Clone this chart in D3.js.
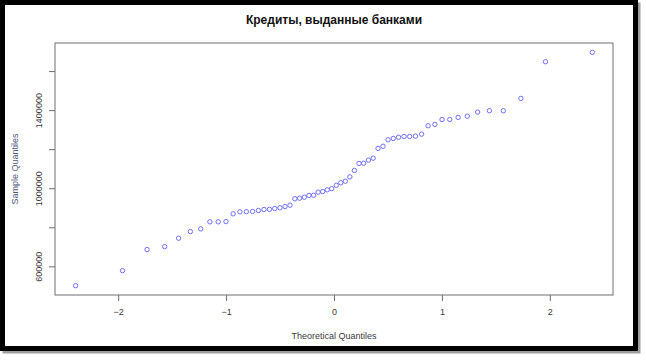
<!DOCTYPE html>
<html>
<head>
<meta charset="utf-8">
<script src="https://cdn.jsdelivr.net/npm/d3@7"></script>
<style>
  html, body { margin: 0; padding: 0; background: #fff; }
  svg { display: block; font-family: "Liberation Sans", Arial, sans-serif; }
</style>
</head>
<body>
<div id="chart"></div>
<script>
// theoretical normal quantiles (n = 60) and the sorted sample
const theoretical = [
  -2.394, -1.960, -1.732, -1.569, -1.440, -1.331, -1.235, -1.150, -1.073, -1.001,
  -0.935, -0.872, -0.812, -0.755, -0.701, -0.649, -0.598, -0.549, -0.501, -0.454,
  -0.408, -0.363, -0.319, -0.275, -0.232, -0.189, -0.147, -0.105, -0.063, -0.021,
   0.021,  0.063,  0.105,  0.147,  0.189,  0.232,  0.275,  0.319,  0.363,  0.408,
   0.454,  0.501,  0.549,  0.598,  0.649,  0.701,  0.755,  0.812,  0.872,  0.935,
   1.001,  1.073,  1.150,  1.235,  1.331,  1.440,  1.569,  1.732,  1.960,  2.394
];
const credits = [
  501000, 578000, 686000, 701000, 744000, 778000, 792000, 828000, 828000, 829000,
  869000, 879000, 880000, 881000, 886000, 891000, 892000, 896000, 900000, 906000,
  913000, 946000, 949000, 954000, 963000, 964000, 980000, 983000, 992000, 998000,
  1015000, 1028000, 1036000, 1058000, 1091000, 1127000, 1128000, 1144000, 1154000, 1204000,
  1215000, 1248000, 1255000, 1261000, 1265000, 1265000, 1267000, 1277000, 1320000, 1327000,
  1352000, 1352000, 1363000, 1369000, 1390000, 1397000, 1397000, 1460000, 1648000, 1696000
];
const xTicks = [-2, -1, 0, 1, 2];
const yTicks = [600000, 800000, 1000000, 1200000, 1400000, 1600000];
const yLabelled = [600000, 1000000, 1400000];

const title = 'Кредиты, выданные банками';
const xTitle = 'Theoretical Quantiles';
const yTitle = 'Sample Quantiles';

const width = 646, height = 361;
const plot = { left: 55, right: 613, top: 43, bottom: 295 };

const svg = d3.select('#chart').append('svg')
  .attr('width', width).attr('height', height);

// outer frame with a drop shadow
svg.append('rect')
  .attr('x', 5).attr('y', 5).attr('width', 633).attr('height', 346)
  .attr('fill', 'none').attr('stroke', '#a0a0a0').attr('stroke-width', 5);
svg.append('rect')
  .attr('x', 2.5).attr('y', 2.5).attr('width', 633).attr('height', 346)
  .attr('fill', '#fff').attr('stroke', '#000').attr('stroke-width', 5);

// R-style 4% padding on both ends
function pad(ext) {
  const d = (ext[1] - ext[0]) * 0.04;
  return [ext[0] - d, ext[1] + d];
}

const x = d3.scaleLinear().domain(pad(d3.extent(theoretical))).range([plot.left, plot.right]);
const y = d3.scaleLinear().domain(pad(d3.extent(credits))).range([plot.bottom, plot.top]);

const axisColor = '#6e6e6e';
const textColor = '#3a3a3a';

const xAxis = svg.append('g')
  .attr('transform', `translate(0,${plot.bottom})`)
  .call(d3.axisBottom(x).tickValues(xTicks).tickSize(6).tickSizeOuter(0).tickFormat(d3.format('d')));
xAxis.select('.domain').remove();
xAxis.selectAll('line').attr('stroke', axisColor);
xAxis.selectAll('text')
  .attr('y', 20).attr('dy', null)
  .attr('fill', textColor).attr('font-size', 9);

const yAxis = svg.append('g')
  .attr('transform', `translate(${plot.left},0)`)
  .call(d3.axisLeft(y).tickValues(yTicks).tickSize(6).tickSizeOuter(0)
    .tickFormat(d => yLabelled.includes(d) ? d3.format('d')(d) : ''));
yAxis.select('.domain').remove();
yAxis.selectAll('line').attr('stroke', axisColor);
yAxis.selectAll('text')
  .attr('x', 0).attr('y', 0).attr('dy', null)
  .attr('transform', 'translate(-13,0) rotate(-90)')
  .attr('text-anchor', 'middle')
  .attr('fill', textColor).attr('font-size', 9);

// plot box
svg.append('rect')
  .attr('x', plot.left).attr('y', plot.top)
  .attr('width', plot.right - plot.left).attr('height', plot.bottom - plot.top)
  .attr('fill', 'none').attr('stroke', axisColor).attr('stroke-width', 1);

svg.append('g').selectAll('circle')
  .data(credits)
  .enter()
  .append('circle')
  .attr('cx', (_, i) => x(theoretical[i]))
  .attr('cy', d => y(d))
  .attr('r', 2.2)
  .attr('fill', 'none')
  .attr('stroke', '#6f6fff')
  .attr('stroke-width', 1);

svg.append('text')
  .attr('x', (plot.left + plot.right) / 2).attr('y', 24)
  .attr('text-anchor', 'middle')
  .attr('font-weight', 'bold').attr('font-size', 12)
  .attr('fill', '#111')
  .text(title);

svg.append('text')
  .attr('x', (plot.left + plot.right) / 2).attr('y', 339)
  .attr('text-anchor', 'middle')
  .attr('font-size', 9).attr('fill', textColor)
  .text(xTitle);

svg.append('text')
  .attr('transform', `translate(18,${(plot.top + plot.bottom) / 2}) rotate(-90)`)
  .attr('text-anchor', 'middle')
  .attr('font-size', 9).attr('fill', '#4a5878')
  .text(yTitle);
</script>
</body>
</html>
